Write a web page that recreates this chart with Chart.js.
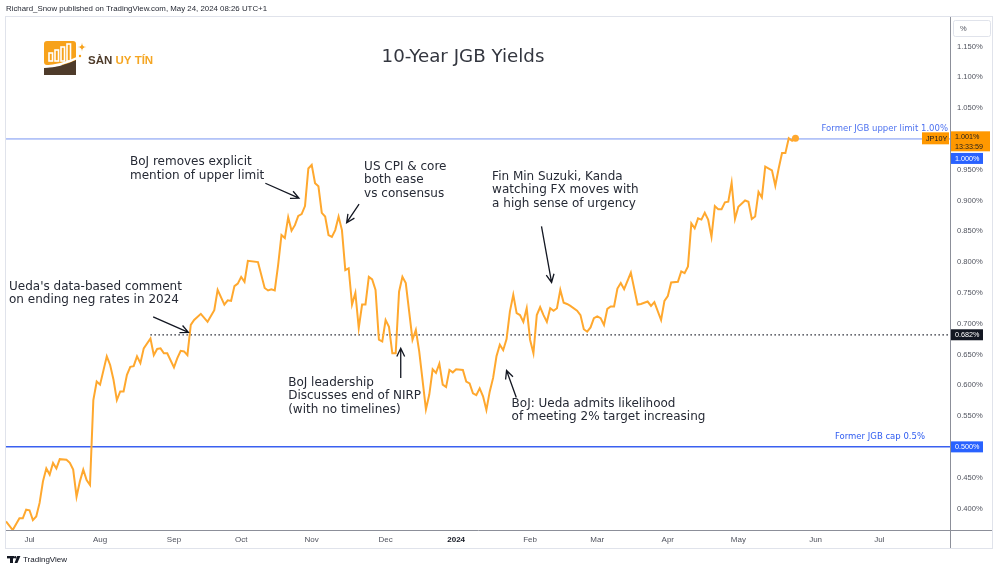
<!DOCTYPE html>
<html>
<head>
<meta charset="utf-8">
<script src="https://cdn.jsdelivr.net/npm/chart.js@4.4.1/dist/chart.umd.min.js"></script>
<style>
  html, body { margin: 0; padding: 0; background: #fff; }
  #wrap { position: relative; width: 1000px; height: 572px; }
</style>
</head>
<body>
<div id="wrap"><canvas id="jgb"></canvas></div>
<script>
// bar index (trading sessions since early July 2023) and 10Y JGB yield, %
const barIndex = [
  0, 2, 4, 5, 6, 7, 8, 9, 10, 11, 12, 13, 14, 15, 16, 18, 19, 20, 21, 22, 23, 24, 25,
  26, 27, 28, 30, 31, 32, 33, 34, 35, 36, 37, 38, 39, 40, 41, 43, 44, 45, 46, 47, 48,
  50, 51, 52, 53, 54, 55, 56, 58, 60, 62, 63, 65, 66, 67, 68, 69, 70, 71, 72, 75, 77,
  78, 79, 80, 81, 82, 83, 84, 85, 86, 87, 88, 89, 90, 91, 92, 93, 94, 95, 96, 97, 98,
  99, 100, 101, 102, 103, 104, 105, 106, 107, 108, 109, 110, 111, 112, 113, 114, 115,
  116, 117, 118, 119, 120, 121, 122, 123, 125, 126, 127, 128, 129, 130, 131, 132, 133,
  134, 136, 137, 138, 139, 140, 141, 142, 143, 144, 145, 146, 147, 148, 149, 150, 151,
  152, 153, 154, 155, 156, 157, 158, 159, 160, 161, 162, 163, 164, 165, 166, 167, 168,
  170, 171, 172, 173, 174, 175, 176, 177, 178, 179, 180, 181, 182, 183, 184, 186, 188,
  189, 191, 192, 193, 195, 196, 197, 198, 200, 201, 202, 203, 204, 205, 206, 207, 208,
  209, 210, 211, 212, 213, 214, 215, 216, 217, 218, 220, 221, 222, 223, 224, 225, 226,
  228, 229, 230, 231, 232, 233, 234, 235
];
const yieldValues = [
  0.379, 0.365, 0.384, 0.384, 0.398, 0.397, 0.381, 0.387, 0.409, 0.444, 0.465, 0.455,
  0.474, 0.465, 0.480, 0.479, 0.474, 0.463, 0.419, 0.444, 0.463, 0.446, 0.438,
  0.576, 0.606, 0.601, 0.647, 0.633, 0.609, 0.576, 0.590, 0.590, 0.617, 0.630, 0.631,
  0.647, 0.636, 0.660, 0.676, 0.649, 0.659, 0.660, 0.652, 0.652,
  0.629, 0.644, 0.656, 0.655, 0.649, 0.698, 0.706, 0.716, 0.703, 0.722, 0.755, 0.731,
  0.738, 0.737, 0.761, 0.765, 0.776, 0.768, 0.802, 0.800, 0.758,
  0.754, 0.756, 0.754, 0.795, 0.844, 0.839, 0.873, 0.851, 0.860, 0.875, 0.878, 0.891,
  0.952, 0.958, 0.928, 0.923, 0.880, 0.874, 0.844, 0.841, 0.852,
  0.874, 0.852, 0.787, 0.790, 0.731, 0.750, 0.693, 0.731, 0.731, 0.776, 0.772, 0.755,
  0.674, 0.671, 0.706, 0.695, 0.652,
  0.652, 0.752, 0.776, 0.766, 0.720, 0.674, 0.690, 0.655, 0.561, 0.585, 0.626, 0.620,
  0.635, 0.601, 0.597, 0.625, 0.621,
  0.626, 0.625, 0.606, 0.603, 0.587, 0.584, 0.595, 0.582, 0.560, 0.590, 0.612, 0.647,
  0.666, 0.657, 0.675, 0.720, 0.747,
  0.717, 0.714, 0.703, 0.725, 0.674, 0.652, 0.714, 0.727, 0.714, 0.703, 0.725, 0.721,
  0.725, 0.755, 0.734, 0.732, 0.729,
  0.721, 0.714, 0.691, 0.687, 0.694, 0.709, 0.712, 0.709, 0.698, 0.724, 0.728, 0.728,
  0.757, 0.766, 0.756, 0.783, 0.731,
  0.732, 0.736, 0.729, 0.735, 0.706, 0.737, 0.745, 0.767, 0.768, 0.785, 0.782, 0.793,
  0.863, 0.855, 0.871, 0.869, 0.880,
  0.869, 0.841, 0.891, 0.886, 0.886, 0.897, 0.898, 0.929, 0.870, 0.890, 0.900, 0.898,
  0.870, 0.874, 0.914, 0.905, 0.955,
  0.949, 0.924, 0.952, 0.977, 0.977, 1.001, 0.997, 1.001
];
const monthTickIndex = [7, 28, 50, 70, 91, 113, 134, 156, 176, 197, 218, 241, 260];
const monthLabels = ['Jul', 'Aug', 'Sep', 'Oct', 'Nov', 'Dec', '2024', 'Feb', 'Mar', 'Apr', 'May', 'Jun', 'Jul'];
const yTickValues = [0.40, 0.45, 0.50, 0.55, 0.60, 0.65, 0.70, 0.75, 0.80, 0.85, 0.90, 0.95, 1.00, 1.05, 1.10, 1.15];
const upperLimit = 1.0;     // former JGB upper limit
const yieldCap = 0.5;       // former JGB cap
const refLevel = 0.682;     // dotted horizontal ray
const refStartIndex = 43;
const lastTime = '13:33:59';

// annotation texts, anchored in data units (bar index, yield)
const notes = [
  { lines: ["Ueda's data-based comment", 'on ending neg rates in 2024'], at: [0.9, 0.760], from: [43.8, 0.711], to: [54.3, 0.686] },
  { lines: ['BoJ removes explicit', 'mention of upper limit'], at: [36.9, 0.962], from: [77.2, 0.928], to: [87.2, 0.904] },
  { lines: ['US CPI & core', 'both ease', 'vs consensus'], at: [106.6, 0.955], from: [105.1, 0.894], to: [101.4, 0.864] },
  { lines: ['BoJ leadership', 'Discusses end of NIRP', '(with no timelines)'], at: [84.0, 0.604], from: [117.5, 0.612], to: [117.5, 0.660] },
  { lines: ['Fin Min Suzuki, Kanda', 'watching FX moves with', 'a high sense of urgency'], at: [144.7, 0.939], from: [159.4, 0.858], to: [162.4, 0.767] },
  { lines: ['BoJ: Ueda admits likelihood', 'of meeting 2% target increasing'], at: [150.5, 0.570], from: [151.9, 0.580], to: [149.0, 0.624] }
];

const ORANGE = '#ffa82e';
const INK = '#262a35';
const pct = v => v.toFixed(3) + '%';

function fitFont(ctx, text, width, family, weight) {
  ctx.font = (weight || '') + ' 20px ' + family;
  const size = 20 * width / ctx.measureText(text).width;
  return (weight || '') + ' ' + size.toFixed(2) + 'px ' + family;
}

function arrow(ctx, x1, y1, x2, y2) {
  const a = Math.atan2(y2 - y1, x2 - x1);
  const len = 9, spread = 0.45;
  ctx.beginPath();
  ctx.moveTo(x1, y1);
  ctx.lineTo(x2, y2);
  ctx.moveTo(x2 - len * Math.cos(a - spread), y2 - len * Math.sin(a - spread));
  ctx.lineTo(x2, y2);
  ctx.lineTo(x2 - len * Math.cos(a + spread), y2 - len * Math.sin(a + spread));
  ctx.stroke();
}

function badge(ctx, x, top, w, h, fill, texts, color, font) {
  ctx.fillStyle = fill;
  ctx.fillRect(x, top, w, h);
  ctx.fillStyle = color;
  ctx.font = font;
  ctx.textAlign = 'left';
  ctx.textBaseline = 'middle';
  texts.forEach((t, i) => ctx.fillText(t, x + 4, top + (i + 0.5) * h / texts.length + 0.5));
}

function drawLogo(ctx) {
  // orange tile with bars
  ctx.fillStyle = '#f7a21b';
  ctx.beginPath();
  ctx.roundRect(44, 41, 32, 24, 3);
  ctx.fill();
  ctx.strokeStyle = '#fff';
  ctx.lineWidth = 1.6;
  [[49, 8], [55, 11], [61, 14], [67, 17]].forEach(([bx, bh]) => {
    ctx.strokeRect(bx, 61 - bh, 3.5, bh);
  });
  // brown base with rising swoosh
  ctx.fillStyle = '#4e3b2a';
  ctx.beginPath();
  ctx.moveTo(44, 75);
  ctx.lineTo(44, 68);
  ctx.quadraticCurveTo(62, 67, 76, 60);
  ctx.lineTo(76, 75);
  ctx.closePath();
  ctx.fill();
  ctx.strokeStyle = '#fff';
  ctx.lineWidth = 2;
  ctx.beginPath();
  ctx.moveTo(44, 66.5);
  ctx.quadraticCurveTo(62, 65.5, 77, 58);
  ctx.stroke();
  // sparkle
  ctx.fillStyle = '#f7a21b';
  ctx.beginPath();
  const sx = 82, sy = 47, r = 4.5;
  ctx.moveTo(sx, sy - r);
  ctx.quadraticCurveTo(sx, sy, sx + r, sy);
  ctx.quadraticCurveTo(sx, sy, sx, sy + r);
  ctx.quadraticCurveTo(sx, sy, sx - r, sy);
  ctx.quadraticCurveTo(sx, sy, sx, sy - r);
  ctx.fill();
  ctx.beginPath();
  ctx.arc(80, 56, 1.2, 0, Math.PI * 2);
  ctx.fill();
  // name
  ctx.textAlign = 'left';
  ctx.textBaseline = 'alphabetic';
  ctx.font = 'bold 11.5px "Liberation Sans"';
  ctx.fillStyle = '#4e3b2a';
  ctx.fillText('SÀN', 88, 64);
  const w = ctx.measureText('SÀN ').width;
  ctx.fillStyle = '#f5a623';
  ctx.fillText('UY TÍN', 88 + w, 64);
}

function drawTvLogo(ctx) {
  ctx.fillStyle = '#131722';
  ctx.fillRect(7, 556, 7, 2.4);
  ctx.fillRect(10, 556, 3, 7);
  ctx.beginPath();
  ctx.arc(15.2, 557.2, 1.2, 0, Math.PI * 2);
  ctx.fill();
  ctx.beginPath();
  ctx.moveTo(17.2, 556);
  ctx.lineTo(20.4, 556);
  ctx.lineTo(17.4, 563);
  ctx.lineTo(14.6, 563);
  ctx.closePath();
  ctx.fill();
}

const overlay = {
  id: 'overlay',
  beforeDraw(chart) {
    const ctx = chart.ctx;
    ctx.save();
    ctx.fillStyle = '#fff';
    ctx.fillRect(0, 0, chart.width, chart.height);
    ctx.restore();
  },
  beforeDatasetsDraw(chart) {
    const { ctx, chartArea: a, scales: { x, y } } = chart;
    ctx.save();
    const yUp = y.getPixelForValue(upperLimit);
    const yCap = y.getPixelForValue(yieldCap);
    const yRef = y.getPixelForValue(refLevel);
    ctx.strokeStyle = '#7895f2';
    ctx.lineWidth = 1;
    ctx.beginPath(); ctx.moveTo(a.left, yUp); ctx.lineTo(a.right, yUp); ctx.stroke();
    ctx.strokeStyle = '#3a60f0';
    ctx.lineWidth = 1.5;
    ctx.beginPath(); ctx.moveTo(a.left, yCap); ctx.lineTo(a.right, yCap); ctx.stroke();
    ctx.strokeStyle = '#131722';
    ctx.lineWidth = 1.3;
    ctx.setLineDash([1.4, 2.6]);
    ctx.beginPath(); ctx.moveTo(x.getPixelForValue(refStartIndex), yRef); ctx.lineTo(a.right, yRef); ctx.stroke();
    ctx.setLineDash([]);
    ctx.font = '8.5px "DejaVu Sans"';
    ctx.textAlign = 'right';
    ctx.textBaseline = 'middle';
    ctx.fillStyle = '#4d72f0';
    ctx.fillText('Former JGB upper limit 1.00%', a.right - 2, yUp - 10);
    ctx.fillStyle = '#2f5cf0';
    ctx.fillText('Former JGB cap 0.5%', a.right - 25, yCap - 10);
    ctx.restore();
  },
  afterDatasetsDraw(chart) {
    const { ctx, scales: { x, y } } = chart;
    ctx.save();
    ctx.font = '12px "DejaVu Sans"';
    ctx.fillStyle = INK;
    ctx.strokeStyle = '#131722';
    ctx.lineWidth = 1.3;
    ctx.textAlign = 'left';
    ctx.textBaseline = 'middle';
    notes.forEach(n => {
      const tx = x.getPixelForValue(n.at[0]);
      const ty = y.getPixelForValue(n.at[1]);
      n.lines.forEach((l, i) => ctx.fillText(l, tx, ty + i * 13.5));
      arrow(ctx, x.getPixelForValue(n.from[0]), y.getPixelForValue(n.from[1]),
        x.getPixelForValue(n.to[0]), y.getPixelForValue(n.to[1]));
    });
    ctx.restore();
  },
  afterDraw(chart) {
    const { ctx, chartArea: a, scales: { y } } = chart;
    const axisRight = a.right + y.width;
    const bottom = a.bottom + chart.scales.x.height;
    ctx.save();
    // frame
    ctx.strokeStyle = '#e0e3eb';
    ctx.lineWidth = 1;
    ctx.strokeRect(a.left - 0.5, a.top - 0.5, axisRight - a.left + 1, bottom - a.top + 1);
    ctx.strokeStyle = '#8c8f99';
    ctx.beginPath();
    ctx.moveTo(a.right, a.bottom + 0.5); ctx.lineTo(axisRight, a.bottom + 0.5);
    ctx.moveTo(a.right + 0.5, a.bottom); ctx.lineTo(a.right + 0.5, bottom);
    ctx.stroke();
    // % box
    ctx.strokeStyle = '#e0e3eb';
    ctx.beginPath();
    ctx.roundRect(a.right + 3.5, a.top + 3.5, 37, 16, 2);
    ctx.stroke();
    ctx.fillStyle = '#50535e';
    ctx.font = '7.5px "Liberation Sans"';
    ctx.textAlign = 'left';
    ctx.textBaseline = 'middle';
    ctx.fillText('%', a.right + 10, a.top + 12);

    // header, title, footer
    ctx.fillStyle = '#1e222d';
    ctx.font = fitFont(ctx, 'Richard_Snow published on TradingView.com, May 24, 2024 08:26 UTC+1', 261, '"Liberation Sans"');
    ctx.fillText('Richard_Snow published on TradingView.com, May 24, 2024 08:26 UTC+1', 6, 9);
    ctx.fillStyle = '#33363f';
    ctx.font = fitFont(ctx, '10-Year JGB Yields', 163, '"DejaVu Sans"');
    ctx.textAlign = 'center';
    ctx.fillText('10-Year JGB Yields', 463, 57);
    drawLogo(ctx);
    drawTvLogo(ctx);
    ctx.fillStyle = '#131722';
    ctx.font = '8px "Liberation Sans"';
    ctx.textAlign = 'left';
    ctx.textBaseline = 'middle';
    ctx.fillText('TradingView', 23, 560);

    // price badges
    const yLast = y.getPixelForValue(yieldValues[yieldValues.length - 1]);
    const yUp = y.getPixelForValue(upperLimit);
    const badgeFont = '7.2px "Liberation Sans"';
    badge(ctx, a.right - 28, yLast - 6, 27, 12, '#ff9800', ['JP10Y'], '#131722', badgeFont);
    badge(ctx, a.right + 1, yLast - 7, 39, 20, '#ff9800', [pct(yieldValues[yieldValues.length - 1]), lastTime], '#1e1e1e', badgeFont);
    badge(ctx, a.right + 1, yUp + 14, 32, 11, '#2962ff', [pct(upperLimit)], '#fff', badgeFont);
    badge(ctx, a.right + 1, y.getPixelForValue(refLevel) - 5.5, 32, 11, '#131722', [pct(refLevel)], '#fff', badgeFont);
    badge(ctx, a.right + 1, y.getPixelForValue(yieldCap) - 5.5, 32, 11, '#2962ff', [pct(yieldCap)], '#fff', badgeFont);
    ctx.restore();
  }
};

const ctx = document.getElementById('jgb').getContext('2d');
const lastIdx = yieldValues.length - 1;

new Chart(ctx, {
  type: 'line',
  data: {
    datasets: [{
      label: 'JP10Y',
      data: barIndex.map((b, i) => ({ x: b, y: yieldValues[i] })),
      borderColor: ORANGE,
      backgroundColor: ORANGE,
      borderWidth: 2,
      tension: 0,
      pointRadius: c => (c.dataIndex === lastIdx ? 3.5 : 0),
      pointBorderWidth: 0,
      pointHoverRadius: 0
    }]
  },
  options: {
    responsive: true,
    maintainAspectRatio: false,
    devicePixelRatio: 1,
    animation: false,
    events: [],
    layout: { padding: { left: 6, top: 17, right: 8, bottom: 24 } },
    plugins: {
      legend: { display: false },
      title: { display: false },
      tooltip: { enabled: false }
    },
    scales: {
      x: {
        type: 'linear',
        min: 0,
        max: 281,
        afterBuildTicks: s => { s.ticks = monthTickIndex.map(v => ({ value: v })); },
        afterFit: s => { s.height = 18; },
        grid: { display: false, drawTicks: false },
        border: { display: true, color: '#8c8f99', width: 1 },
        ticks: {
          autoSkip: false,
          maxRotation: 0,
          padding: 5,
          callback: (v, i) => monthLabels[i],
          color: c => (c.index === 6 ? '#131722' : '#50535e'),
          font: c => ({ family: 'Liberation Sans', size: 8, weight: c.index === 6 ? 'bold' : 'normal' })
        }
      },
      y: {
        position: 'right',
        min: 0.365,
        max: 1.198,
        afterBuildTicks: s => { s.ticks = yTickValues.map(v => ({ value: v })); },
        afterFit: s => { s.width = 42; },
        grid: { display: false, drawTicks: false },
        border: { display: true, color: '#8c8f99', width: 1 },
        ticks: {
          padding: 7,
          callback: v => pct(v),
          color: '#50535e',
          font: { family: 'Liberation Sans', size: 7.6 }
        }
      }
    }
  },
  plugins: [overlay]
});
</script>
</body>
</html>
